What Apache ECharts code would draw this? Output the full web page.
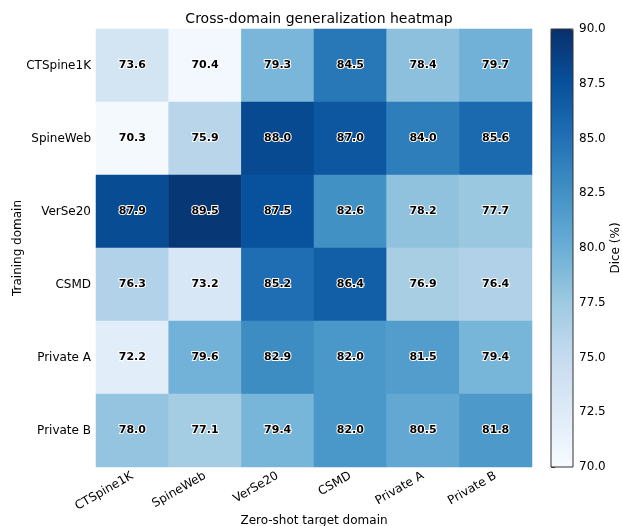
<!DOCTYPE html>
<html>
<head>
<meta charset="utf-8">
<script src="https://cdn.jsdelivr.net/npm/echarts@6/dist/echarts.min.js"></script>
<style>
  html, body { margin: 0; padding: 0; background: #fff; }
  #chart { width: 622px; height: 526px; }
</style>
</head>
<body>
<div id="chart"></div>
<script>
const targets = ['CTSpine1K', 'SpineWeb', 'VerSe20', 'CSMD', 'Private A', 'Private B'];
const trainDomains = ['CTSpine1K', 'SpineWeb', 'VerSe20', 'CSMD', 'Private A', 'Private B'];

// one row per training domain
const rowCTSpine1K = [73.6, 70.4, 79.3, 84.5, 78.4, 79.7];
const rowSpineWeb  = [70.3, 75.9, 88.0, 87.0, 84.0, 85.6];
const rowVerSe20   = [87.9, 89.5, 87.5, 82.6, 78.2, 77.7];
const rowCSMD      = [76.3, 73.2, 85.2, 86.4, 76.9, 76.4];
const rowPrivateA  = [72.2, 79.6, 82.9, 82.0, 81.5, 79.4];
const rowPrivateB  = [78.0, 77.1, 79.4, 82.0, 80.5, 81.8];
const rows = [rowCTSpine1K, rowSpineWeb, rowVerSe20, rowCSMD, rowPrivateA, rowPrivateB];

const diceMin = 70;
const diceMax = 90;
const diceStep = 2.5;

const blues = ['#f7fbff', '#deebf7', '#c6dbef', '#9ecae1', '#6baed6',
               '#4292c6', '#2171b5', '#08519c', '#08306b'];

const cells = [];
rows.forEach((r, i) => r.forEach((v, j) => cells.push([j, i, v])));

const font = 'DejaVu Sans';
const chart = echarts.init(document.getElementById('chart'));

const option = {
  animation: false,
  textStyle: { fontFamily: font },
  title: {
    text: 'Cross-domain generalization heatmap',
    left: 314, top: 7, textAlign: 'center',
    textStyle: { fontFamily: font, fontSize: 14, fontWeight: 'normal', color: '#000' }
  },
  grid: [
    { left: 96, top: 29, width: 436, height: 438, outerBoundsMode: 'none', containLabel: false },
    { left: 551, top: 29, width: 22, height: 438, outerBoundsMode: 'none', containLabel: false,
      show: true, z: 10, backgroundColor: 'transparent', borderColor: '#333', borderWidth: 1 }
  ],
  xAxis: [
    {
      type: 'category', data: targets, gridIndex: 0,
      axisLine: { show: false }, axisTick: { show: false }, splitLine: { show: false },
      axisLabel: { rotate: 30, color: '#000', fontSize: 12, fontFamily: font, margin: 8 },
      name: 'Zero-shot target domain', nameLocation: 'middle', nameGap: 48, nameMoveOverlap: false,
      nameTextStyle: { color: '#000', fontSize: 12, fontFamily: font }
    },
    { type: 'value', gridIndex: 1, show: false, min: 0, max: 1 }
  ],
  yAxis: [
    {
      type: 'category', data: trainDomains, gridIndex: 0, inverse: true,
      axisLine: { show: false }, axisTick: { show: false }, splitLine: { show: false },
      axisLabel: { color: '#000', fontSize: 12, fontFamily: font, margin: 5 },
      name: 'Training domain', nameLocation: 'middle', nameGap: 72, nameRotate: 90, nameMoveOverlap: false,
      nameTextStyle: { color: '#000', fontSize: 12, fontFamily: font }
    },
    {
      type: 'value', gridIndex: 1, position: 'right',
      min: diceMin, max: diceMax, interval: diceStep,
      axisLine: { show: false }, splitLine: { show: false },
      axisTick: { show: true, length: 4, lineStyle: { color: '#333' } },
      axisLabel: { color: '#000', fontSize: 12, fontFamily: font, margin: 6,
                   formatter: v => v.toFixed(1) },
      name: 'Dice (%)', nameLocation: 'middle', nameGap: 29, nameRotate: 90,
      nameTextStyle: { color: '#000', fontSize: 12, fontFamily: font }
    }
  ],
  visualMap: {
    type: 'continuous', seriesIndex: 0,
    min: diceMin, max: diceMax, calculable: false,
    left: 551, top: 29, itemWidth: 22, itemHeight: 438, padding: 0,
    orient: 'vertical', text: null, showLabel: false,
    inRange: { color: blues }
  },
  series: [{
    type: 'heatmap', xAxisIndex: 0, yAxisIndex: 0, data: cells,
    label: {
      show: true, formatter: p => p.value[2].toFixed(1),
      color: '#000', fontWeight: 'bold', fontSize: 11, fontFamily: font,
      textBorderColor: '#fff', textBorderWidth: 2
    },
    itemStyle: { borderWidth: 0 },
    emphasis: { disabled: true }
  }]
};

chart.setOption(option);
</script>
</body>
</html>
